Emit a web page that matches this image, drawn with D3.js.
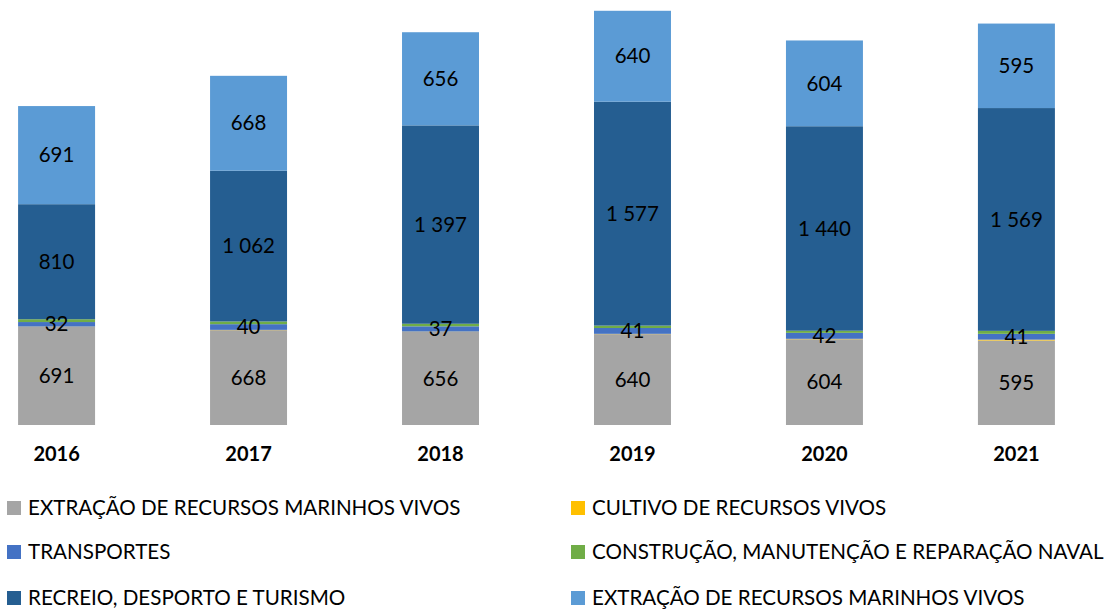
<!DOCTYPE html>
<html><head><meta charset="utf-8">
<script src="https://cdn.jsdelivr.net/npm/d3@7"></script>
<style>body{margin:0;background:#fff}svg{display:block}</style>
</head><body>
<svg id="c" width="1108" height="610"></svg>
<script>
const years = ["2016","2017","2018","2019","2020","2021"];
const extracao = [691, 668, 656, 640, 604, 595];
const cultivo = [2, 2, 2, 2, 3, 6];
const transportes = [32, 40, 37, 41, 42, 41];
const construcao = [20, 19, 18, 17, 15, 21];
const recreio = [810, 1062, 1397, 1577, 1440, 1569];
const extracao2 = [691, 668, 656, 640, 604, 595];
const seriesNames = [
  "EXTRAÇÃO DE RECURSOS MARINHOS VIVOS",
  "CULTIVO DE RECURSOS VIVOS",
  "TRANSPORTES",
  "CONSTRUÇÃO, MANUTENÇÃO E REPARAÇÃO NAVAL",
  "RECREIO, DESPORTO E TURISMO",
  "EXTRAÇÃO DE RECURSOS MARINHOS VIVOS"
];
const colors = ["#A5A5A5","#FFC000","#4472C4","#70AD47","#255E91","#5B9BD5"];
const labelled = [true,false,true,false,true,true];

const seriesVals = [extracao, cultivo, transportes, construcao, recreio, extracao2];
const keys = ["s0","s1","s2","s3","s4","s5"];
const rows = years.map((y,i)=>{const r={year:y}; keys.forEach((k,j)=>r[k]=seriesVals[j][i]); return r;});
const stack = d3.stack().keys(keys)(rows);

const svg = d3.select("#c");
const font = "Lato, 'Liberation Sans', sans-serif";
const x = d3.scaleBand().domain(years).range([-39.5, 1112.5]).paddingInner(0.599).paddingOuter(0.3);
const y = d3.scaleLinear().domain([0, 3000]).range([425, 425 - 3000*0.142]);
const fmt = d3.formatLocale({decimal:",", thousands:" ", grouping:[3], currency:["","€"]}).format(",d");

const g = svg.append("g");
stack.forEach((s,j)=>{
  g.selectAll(null).data(s).join("rect")
    .attr("x", d=>x(d.data.year))
    .attr("width", x.bandwidth())
    .attr("y", d=>y(d[1]))
    .attr("height", d=>y(d[0])-y(d[1]))
    .attr("fill", colors[j]);
});
stack.forEach((s,j)=>{
  if(!labelled[j]) return;
  g.selectAll(null).data(s).join("text")
    .attr("x", d=>x(d.data.year)+x.bandwidth()/2)
    .attr("y", d=>(y(d[0])+y(d[1]))/2)
    .attr("dy","0.35em")
    .attr("text-anchor","middle")
    .attr("font-family", font)
    .attr("font-size", 20.5)
    .attr("fill","#000")
    .text(d=>fmt(d[1]-d[0]));
});

const xAxis = svg.append("g").attr("transform","translate(0,425)")
  .call(d3.axisBottom(x).tickSize(0).tickPadding(22));
xAxis.select(".domain").remove();
xAxis.selectAll("text").attr("font-family", font).attr("font-size", 20).attr("font-weight","bold").attr("fill","#000");

const legendPos = [[7,508],[571,508],[7,552],[571,552],[7,598],[571,598]];
const lg = svg.append("g");
seriesNames.forEach((n,i)=>{
  const [lx,ly] = legendPos[i];
  lg.append("rect").attr("x",lx).attr("y",ly-7).attr("width",14).attr("height",14).attr("fill",colors[i]);
  lg.append("text").attr("x",lx+21).attr("y",ly).attr("dy","0.35em")
    .attr("font-family",font).attr("font-size",20.6).attr("fill","#000").text(n);
});
</script>
</body></html>
